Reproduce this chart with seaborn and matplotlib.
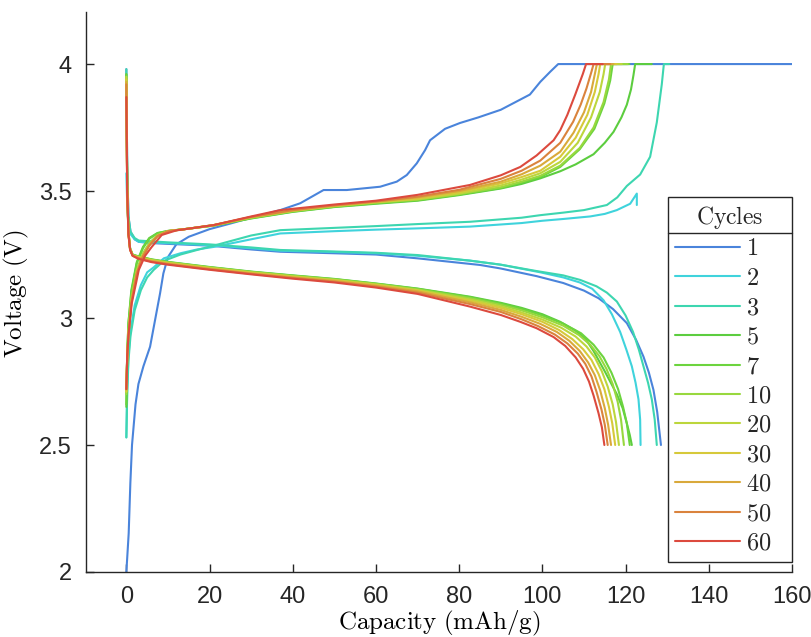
import matplotlib
matplotlib.use("Agg")
import matplotlib.pyplot as plt
from matplotlib.lines import Line2D
import seaborn as sns

sns.set_theme(style="white")
plt.rcParams['font.family'] = ['Liberation Sans Narrow', 'Liberation Sans', 'DejaVu Sans']
plt.rcParams['mathtext.fontset'] = 'cm'

cycles = ["1", "2", "3", "5", "7", "10", "20", "30", "40", "50", "60"]
colors = ["#4a84db", "#3fd3dc", "#3dd6b0", "#5ccd3f", "#6cd43e", "#98d83e",
          "#bcd63c", "#d6c93a", "#d9a93b", "#da833d", "#dc4a3e"]

# ---------------- charge curves ----------------
ch1_x = [0, 0.56, 0.96, 1.36, 2.2, 2.9, 4.1, 5.7, 6.9, 8.1, 8.9, 10, 12, 15, 20, 25, 30, 37, 41.8, 47.4, 53, 61,
         65, 67.4, 69.8, 71.8, 73, 76.6, 80.2, 84.6, 90, 93.5, 97, 99.5, 101.9, 103.8, 160]
ch1_y = [2.0, 2.152, 2.35, 2.5, 2.66, 2.74, 2.81, 2.887, 2.992, 3.097, 3.176, 3.24, 3.29, 3.32, 3.35, 3.372, 3.395,
         3.425, 3.452, 3.504, 3.504, 3.517, 3.537, 3.563, 3.609, 3.661, 3.70, 3.745, 3.768, 3.79, 3.82, 3.85,
         3.88, 3.93, 3.97, 4.0, 4.0]

ch2_x = [0, 0.2, 0.5, 1, 2, 3.5, 5, 6.6, 9, 13, 17, 21, 30, 37, 50, 60, 70, 82.6, 95, 100, 105, 111.5,
         115, 117.9, 121.1, 122.7, 122.7]
ch2_y = [2.53, 2.72, 2.85, 2.95, 3.05, 3.13, 3.18, 3.2, 3.235, 3.255, 3.27, 3.28, 3.31, 3.333, 3.342, 3.348,
         3.353, 3.36, 3.374, 3.383, 3.39, 3.40, 3.41, 3.425, 3.45, 3.49, 3.445]

ch3_x = [0, 0.2, 0.5, 1, 2, 3.5, 5, 6.6, 9, 13, 17, 21, 30, 37, 50, 60, 70, 82.6, 95, 99.5, 105, 110,
         115.5, 118, 120.3, 123.5, 125.9, 127.5, 128.7, 129.2, 130.5]
ch3_y = [2.53, 2.70, 2.83, 2.93, 3.03, 3.11, 3.16, 3.19, 3.225, 3.25, 3.268, 3.285, 3.325, 3.346, 3.355,
         3.362, 3.37, 3.379, 3.395, 3.405, 3.415, 3.425, 3.445, 3.475, 3.52, 3.565, 3.635, 3.77, 3.92, 4.0, 4.0]

ch5_x = [0, 0.2, 0.5, 1.2, 2.5, 4, 5.5, 7.5, 10, 15, 21, 30, 40, 50, 60, 70, 80, 90, 95, 99.5, 104.3,
         108, 112.3, 115, 117.1, 119, 120.3, 121.3, 121.9, 122.3, 126.3]
ch5_y = [2.65, 2.86, 2.98, 3.11, 3.22, 3.28, 3.315, 3.335, 3.343, 3.352, 3.364, 3.392, 3.418, 3.437, 3.45,
         3.462, 3.484, 3.51, 3.528, 3.55, 3.578, 3.605, 3.645, 3.69, 3.733, 3.79, 3.84, 3.9, 3.957, 4.0, 4.0]

ch7_x = [0, 0.2, 0.5, 1.2, 2.5, 4, 5.5, 7.5, 10, 15, 21, 30, 40, 50, 60, 70, 80, 90, 95, 99.5, 104.3,
         109, 112.5, 114.9, 116.3, 116.9, 120.9]
ch7_y = [2.66, 2.86, 2.98, 3.10, 3.215, 3.275, 3.312, 3.334, 3.343, 3.352, 3.364, 3.393, 3.419, 3.438,
         3.452, 3.464, 3.486, 3.512, 3.533, 3.555, 3.595, 3.665, 3.745, 3.845, 3.935, 4.0, 4.0]

ch10_x = [0, 0.2, 0.5, 1.2, 2.5, 4, 5.5, 7.5, 10, 15, 21, 30, 40, 50, 60, 70, 80, 90, 95, 99.5, 104.3,
          109, 112.3, 114.7, 116, 116.5, 120.5]
ch10_y = [2.70, 2.85, 2.95, 3.08, 3.19, 3.255, 3.295, 3.327, 3.342, 3.352, 3.365, 3.395, 3.421, 3.44,
          3.454, 3.466, 3.488, 3.515, 3.537, 3.56, 3.60, 3.67, 3.75, 3.85, 3.94, 4.0, 4.0]

ch20_x = [0, 0.2, 0.5, 1.2, 2.5, 4, 5.5, 7.5, 10, 15, 21, 30, 40, 50, 60, 70, 80, 90, 95, 99.5, 104.3,
          108.5, 111.7, 113.8, 114.7, 115.1, 119.1]
ch20_y = [2.71, 2.85, 2.94, 3.07, 3.185, 3.25, 3.29, 3.325, 3.342, 3.352, 3.365, 3.396, 3.422, 3.441,
          3.456, 3.468, 3.49, 3.522, 3.545, 3.57, 3.615, 3.69, 3.79, 3.89, 3.96, 4.0, 4.0]

ch30_x = [0, 0.2, 0.5, 1.2, 2.5, 4, 5.5, 7.5, 10, 15, 21, 30, 40, 50, 60, 70, 80, 90, 95, 99.5, 104.3,
          108, 110.8, 112.6, 113.5, 113.9, 117.9]
ch30_y = [2.71, 2.84, 2.935, 3.065, 3.18, 3.247, 3.288, 3.324, 3.342, 3.352, 3.366, 3.397, 3.423, 3.442,
          3.457, 3.47, 3.495, 3.53, 3.555, 3.58, 3.635, 3.71, 3.80, 3.89, 3.96, 4.0, 4.0]

ch40_x = [0, 0.2, 0.5, 1.2, 2.5, 4, 5.5, 7.5, 10, 15, 21, 30, 40, 50, 60, 70, 80, 90, 95, 99.5, 104.3,
          107.5, 110, 111.7, 112.6, 113.1, 117.1]
ch40_y = [2.72, 2.84, 2.93, 3.06, 3.178, 3.245, 3.286, 3.323, 3.342, 3.352, 3.366, 3.398, 3.424, 3.443,
          3.458, 3.475, 3.50, 3.537, 3.566, 3.60, 3.655, 3.73, 3.81, 3.89, 3.96, 4.0, 4.0]

ch50_x = [0, 0.2, 0.5, 1.2, 2.5, 4, 5.5, 7.5, 10, 15, 21, 30, 40, 50, 60, 70, 80, 90, 95, 99.5, 104.3,
          107.4, 109.2, 110.6, 111.8, 112.3, 116.3]
ch50_y = [2.72, 2.84, 2.93, 3.06, 3.175, 3.243, 3.285, 3.323, 3.342, 3.352, 3.366, 3.398, 3.425, 3.444,
          3.459, 3.478, 3.505, 3.548, 3.58, 3.62, 3.69, 3.773, 3.84, 3.904, 3.97, 4.0, 4.0]

ch60_x = [0, 0.2, 0.5, 1.3, 3.0, 4.5, 6.1, 8.5, 12, 15, 21, 30, 37, 50, 60, 70, 82.6, 90, 94.7, 98.6,
          102.7, 104.3, 106, 107.9, 109.7, 110.5, 114.5]
ch60_y = [2.72, 2.85, 2.93, 3.058, 3.19, 3.245, 3.28, 3.327, 3.345, 3.352, 3.366, 3.40, 3.425, 3.447,
          3.462, 3.485, 3.524, 3.562, 3.595, 3.64, 3.70, 3.74, 3.80, 3.88, 3.96, 4.0, 4.0]

# ---------------- discharge curves ----------------
dc1_x = [0, 0.2, 0.5, 1, 2, 3, 6, 10, 20, 30, 37, 50, 60, 70, 85, 90, 98.6, 105, 110, 113.5, 117, 120.3,
         122.5, 124.3, 125.6, 126.7, 127.6, 128.5]
dc1_y = [3.98, 3.6, 3.40, 3.34, 3.31, 3.30, 3.295, 3.292, 3.285, 3.27, 3.261, 3.255, 3.25, 3.235, 3.209,
         3.195, 3.165, 3.138, 3.108, 3.078, 3.035, 2.98, 2.915, 2.848, 2.785, 2.717, 2.63, 2.5]

dc2_x = [0, 0.2, 0.5, 1, 2, 3, 10, 20, 30, 37, 50, 60, 70, 82.6, 90, 99.5, 105, 109, 112, 114.7, 116.7,
         118.7, 120.2, 121.5, 122.4, 123.1, 123.5, 123.6]
dc2_y = [3.57, 3.45, 3.37, 3.33, 3.31, 3.30, 3.295, 3.287, 3.275, 3.265, 3.26, 3.255, 3.245, 3.226, 3.21,
         3.18, 3.16, 3.14, 3.115, 3.07, 3.015, 2.945, 2.875, 2.81, 2.745, 2.68, 2.6, 2.5]

dc3_x = [0, 0.2, 0.5, 1, 2, 3, 10, 20, 30, 37, 50, 60, 70, 82.6, 90, 98.6, 105, 109.1, 113, 115.5, 117.9,
         120, 121.8, 123.2, 124.3, 125.4, 126.3, 127, 127.5]
dc3_y = [3.98, 3.6, 3.40, 3.34, 3.315, 3.305, 3.298, 3.29, 3.278, 3.268, 3.262, 3.257, 3.248, 3.226, 3.21,
         3.185, 3.168, 3.15, 3.125, 3.10, 3.065, 3.01, 2.945, 2.875, 2.81, 2.745, 2.68, 2.6, 2.5]

dc5_x = [0, 0.2, 0.5, 0.9, 1.5, 2.9, 6.1, 10, 15, 20, 30, 40, 50, 60, 70, 82.6, 90, 95, 100, 104.3, 108,
         110.5, 112.3, 115, 117.9, 119.3, 120.3, 121, 121.5]
dc5_y = [3.96, 3.52, 3.34, 3.275, 3.25, 3.243, 3.231, 3.221, 3.211, 3.201, 3.183, 3.168, 3.154, 3.136,
         3.116, 3.084, 3.06, 3.04, 3.015, 2.985, 2.95, 2.915, 2.87, 2.79, 2.70, 2.645, 2.585, 2.54, 2.5]

dc7_x = [0, 0.2, 0.5, 0.9, 1.5, 2.9, 6.1, 10, 15, 20, 30, 40, 50, 60, 70, 82.6, 90, 95, 100, 105, 109.3,
         112.3, 114.7, 116.6, 118.2, 119.4, 120.3, 121]
dc7_y = [3.96, 3.52, 3.34, 3.274, 3.249, 3.242, 3.23, 3.22, 3.21, 3.2, 3.182, 3.167, 3.153, 3.135, 3.115,
         3.082, 3.057, 3.036, 3.01, 2.978, 2.94, 2.895, 2.845, 2.785, 2.72, 2.65, 2.585, 2.5]

dc10_x = [0, 0.2, 0.5, 0.9, 1.5, 2.9, 6.1, 10, 15, 20, 30, 40, 50, 60, 70, 82.6, 90, 95, 100, 105, 108.8,
          111.6, 113.7, 115.4, 116.9, 118.1, 118.9, 119.6]
dc10_y = [3.95, 3.52, 3.34, 3.273, 3.248, 3.241, 3.229, 3.219, 3.209, 3.199, 3.181, 3.166, 3.152, 3.134,
          3.113, 3.078, 3.052, 3.03, 3.003, 2.97, 2.933, 2.893, 2.85, 2.80, 2.74, 2.67, 2.6, 2.5]

dc20_x = [0, 0.2, 0.5, 0.9, 1.5, 2.9, 6.1, 10, 15, 20, 30, 40, 50, 60, 70, 82.6, 90, 95, 100, 104.5, 108,
          110.6, 112.6, 114.3, 115.7, 116.9, 117.7, 118.4]
dc20_y = [3.95, 3.51, 3.335, 3.272, 3.247, 3.24, 3.228, 3.218, 3.208, 3.198, 3.18, 3.164, 3.15, 3.132,
          3.11, 3.073, 3.046, 3.022, 2.994, 2.962, 2.927, 2.888, 2.845, 2.79, 2.73, 2.66, 2.59, 2.5]

dc30_x = [0, 0.2, 0.5, 0.9, 1.5, 2.9, 6.1, 10, 15, 20, 30, 40, 50, 60, 70, 82.6, 90, 95, 100, 104, 107.2,
          109.8, 111.8, 113.5, 114.9, 116, 116.8, 117.5]
dc30_y = [3.94, 3.51, 3.335, 3.271, 3.246, 3.239, 3.226, 3.216, 3.206, 3.196, 3.178, 3.162, 3.148, 3.13,
          3.108, 3.068, 3.04, 3.015, 2.985, 2.953, 2.917, 2.877, 2.835, 2.78, 2.72, 2.65, 2.585, 2.5]

dc40_x = [0, 0.2, 0.5, 0.9, 1.5, 2.9, 6.1, 10, 15, 20, 30, 40, 50, 60, 70, 82.6, 90, 95, 99.5, 103.5, 106.5,
          109, 111, 112.6, 113.9, 115, 115.8, 116.5]
dc40_y = [3.93, 3.5, 3.33, 3.27, 3.246, 3.237, 3.224, 3.214, 3.204, 3.194, 3.176, 3.16, 3.146, 3.127,
          3.105, 3.062, 3.032, 3.005, 2.977, 2.945, 2.91, 2.87, 2.825, 2.775, 2.715, 2.645, 2.58, 2.5]

dc50_x = [0, 0.2, 0.5, 0.9, 1.5, 2.9, 6.1, 10, 15, 20, 30, 40, 50, 60, 70, 82.6, 90, 95, 99, 103, 106,
          108.5, 110.3, 111.8, 113, 114.2, 115, 115.7]
dc50_y = [3.92, 3.5, 3.33, 3.27, 3.246, 3.235, 3.222, 3.212, 3.202, 3.192, 3.174, 3.158, 3.143, 3.124,
          3.10, 3.055, 3.024, 2.995, 2.968, 2.935, 2.90, 2.86, 2.82, 2.77, 2.71, 2.64, 2.58, 2.5]

dc60_x = [0, 0.2, 0.5, 0.9, 1.5, 2.9, 6.1, 10, 15, 20, 30, 40, 50, 60, 70, 82.6, 90, 94.7, 98.6, 102.7,
          105.5, 108, 109.8, 111.2, 112.3, 113.5, 114.3, 114.9]
dc60_y = [3.87, 3.5, 3.33, 3.268, 3.245, 3.233, 3.22, 3.21, 3.2, 3.19, 3.172, 3.155, 3.14, 3.12, 3.095,
          3.045, 3.012, 2.985, 2.96, 2.925, 2.89, 2.845, 2.80, 2.75, 2.695, 2.625, 2.57, 2.5]

charge = [(ch1_x, ch1_y), (ch2_x, ch2_y), (ch3_x, ch3_y), (ch5_x, ch5_y), (ch7_x, ch7_y),
          (ch10_x, ch10_y), (ch20_x, ch20_y), (ch30_x, ch30_y), (ch40_x, ch40_y),
          (ch50_x, ch50_y), (ch60_x, ch60_y)]
discharge = [(dc1_x, dc1_y), (dc2_x, dc2_y), (dc3_x, dc3_y), (dc5_x, dc5_y), (dc7_x, dc7_y),
             (dc10_x, dc10_y), (dc20_x, dc20_y), (dc30_x, dc30_y), (dc40_x, dc40_y),
             (dc50_x, dc50_y), (dc60_x, dc60_y)]

xticks = [0, 20, 40, 60, 80, 100, 120, 140, 160]
yticks = [2, 2.5, 3, 3.5, 4]
ytick_labels = ["2", "2.5", "3", "3.5", "4"]

fig = plt.figure(figsize=(8.12, 6.37), dpi=100)
ax = fig.add_axes([86 / 812, 1 - 572 / 637, (792 - 86) / 812, (572 - 12) / 637])

lw = 1.5
for cyc, col, (cx, cy), (dx, dy) in zip(cycles, colors, charge, discharge):
    sns.lineplot(x=cx, y=cy, sort=False, estimator=None, color=col, lw=lw, ax=ax)
    sns.lineplot(x=dx, y=dy, sort=False, estimator=None, color=col, lw=lw, ax=ax)

ax.set_xlim(-9.7, 160)
ax.set_ylim(2, 4.205)
ax.set_xticks(xticks)
ax.set_xticklabels([str(t) for t in xticks])
ax.set_yticks(yticks)
ax.set_yticklabels(ytick_labels)
ax.tick_params(direction="in", length=6, width=1, colors="#262626", labelsize=17,
               left=True, bottom=True, top=False, right=False, pad=10)
for t in ax.get_xticklabels() + ax.get_yticklabels():
    t.set_color("#262626")
for s in ["top", "right"]:
    ax.spines[s].set_visible(False)
for s in ["left", "bottom"]:
    ax.spines[s].set_color("#262626")
    ax.spines[s].set_linewidth(1.0)

ax.set_xlabel(r"$\mathrm{Capacity\ (mAh/g)}$", fontsize=18, color="black")
ax.set_ylabel(r"$\mathrm{Voltage\ (V)}$", fontsize=18, color="black")
ax.xaxis.set_label_coords(0.5, -0.066)
ax.yaxis.set_label_coords(-0.078, 0.497)

handles = [Line2D([0], [0], color=c, lw=1.5) for c in colors]
labels = [r"$\mathrm{%s}$" % c for c in cycles]
leg = ax.legend(handles, labels, title=r"$\mathrm{Cycles}$", loc="lower left",
                bbox_to_anchor=((668 - 86) / 706, 0.018, 124 / 706, 0.7), mode="expand",
                fontsize=17.5, title_fontsize=17,
                frameon=True, fancybox=False, edgecolor="#262626", framealpha=1,
                handlelength=2.65, handletextpad=0.25, labelspacing=0.305, borderpad=0.3,
                borderaxespad=0.0)
leg.get_frame().set_linewidth(1.0)

fig.canvas.draw()
renderer = fig.canvas.get_renderer()
lb = leg.get_window_extent(renderer)
tb = leg.get_title().get_window_extent(renderer)
first = leg.get_texts()[0].get_window_extent(renderer)
ysep = (tb.y0 + first.y1) / 2 + 2
fig.add_artist(Line2D([lb.x0 / fig.bbox.width, lb.x1 / fig.bbox.width],
                      [ysep / fig.bbox.height, ysep / fig.bbox.height],
                      transform=fig.transFigure, color="#262626", lw=1.0))

fig.savefig("out.png", dpi=100)
